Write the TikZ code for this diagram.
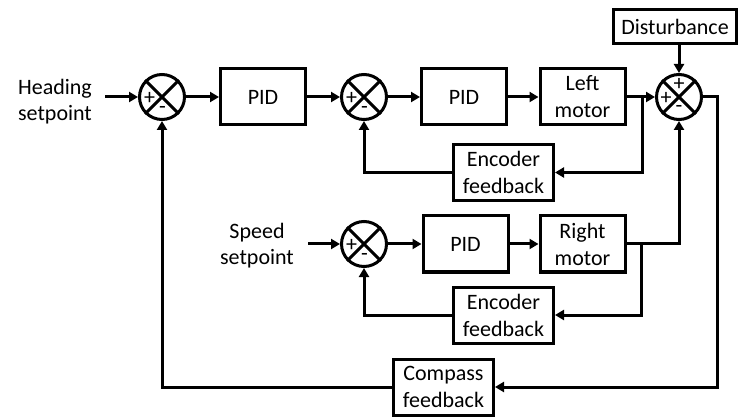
\documentclass[tikz,border=0pt]{standalone}
\usepackage{fontspec}
\setmainfont{Carlito}
\usetikzlibrary{arrows.meta,calc}
\begin{document}
\begin{tikzpicture}[x=1pt,y=-1pt,
  line width=3pt,
  blk/.style={draw, rectangle, minimum width=85pt, minimum height=56pt, inner sep=0pt, align=center, font=\fontsize{22}{27}\selectfont},
  wblk/.style={blk, minimum width=100pt},
  sumj/.style={draw, circle, minimum size=45pt, inner sep=0pt},
  lbl/.style={align=center, font=\fontsize{22}{26}\selectfont, inner sep=0pt},
  sgn/.style={font=\fontsize{22}{22}\selectfont, inner sep=0pt},
  arr/.style={-{Triangle[length=9pt,width=10pt]}}
]
\useasboundingbox (0,0) rectangle (743,419);

% summing junctions
\node[sumj] (S1) at (162,97) {};
\node[sumj] (S2) at (364,97) {};
\node[sumj] (S3) at (679,97) {};
\node[sumj] (S4) at (364,244) {};
\foreach \s in {S1,S2,S4}{
  \node[sgn] at ($(\s)+(-12.5,1.5)$) {+};
  \node[sgn] at ($(\s)+(0.5,12.5)$) {-};
}
\node[sgn] at ($(S3)+(0,-12.5)$) {+};
\node[sgn] at ($(S3)+(-13,1.5)$) {+};
\node[sgn] at ($(S3)+(0,12)$) {-};
\foreach \s in {S1,S2,S3,S4}{
  \draw (\s.north west) -- (\s.south east) (\s.north east) -- (\s.south west);
}

% blocks
\node[blk] (PID1) at (263,97) {PID};
\node[blk] (PID2) at (464,97) {PID};
\node[blk] (LM) at (582.5,97) {Left\\motor};
\node[blk] (PID3) at (465.5,244) {PID};
\node[blk] (RM) at (582.5,244) {Right\\motor};
\node[wblk] (Enc1) at (503.5,172.5) {Encoder\\feedback};
\node[wblk] (Enc2) at (503.5,315) {Encoder\\feedback};
\node[wblk] (Comp) at (443.5,387) {Compass\\feedback};
\node[blk, minimum width=123pt, minimum height=34pt] (Dist) at (675,26.5) {Disturbance};

% labels
\node[lbl] (H) at (55,102) {Heading\\setpoint};
\node[lbl] (SP) at (257,246) {Speed\\setpoint};

% coordinates
\coordinate (hin) at (105,97);
\coordinate (sin) at (308,244);
\coordinate (b1) at (642,97);
\coordinate (b2) at (641,244);
\coordinate (rc) at (717,97);

% connectors
\draw[arr] (hin) -- (S1.west);
\draw[arr] (S1.east) -- (PID1.west);
\draw[arr] (PID1.east) -- (S2.west);
\draw[arr] (S2.east) -- (PID2.west);
\draw[arr] (PID2.east) -- (LM.west);
\draw[arr] (LM.east) -- (S3.west);
\draw[arr] (b1) |- (Enc1.east);
\draw[arr] (Enc1.west) -| (S2.south);
\draw[arr] (Dist.south -| S3.north) -- (S3.north);
\draw[arr] (S3.east) -- (rc) |- (Comp.east);
\draw[arr] (Comp.west) -| (S1.south);
\draw[arr] (sin) -- (S4.west);
\draw[arr] (S4.east) -- (PID3.west);
\draw[arr] (PID3.east) -- (RM.west);
\draw[arr] (RM.east) -| (S3.south);
\draw[arr] (b2) |- (Enc2.east);
\draw[arr] (Enc2.west) -| (S4.south);
\end{tikzpicture}
\end{document}
